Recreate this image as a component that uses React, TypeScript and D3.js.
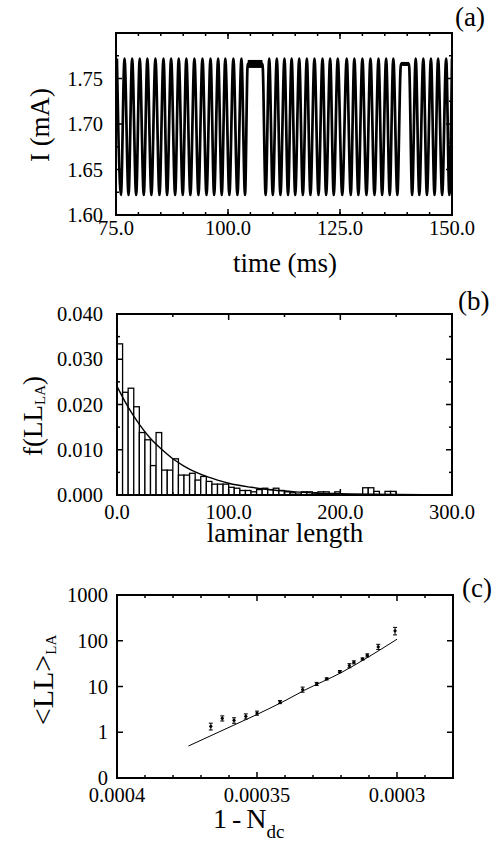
import React from "react";
import * as d3 from "d3";

const FONT = "Liberation Serif, Times New Roman, serif";

// (a) current trace: turning points (ms)
const peakTimes = [75.2, 76.9, 78.6, 80.3, 82.0, 83.8, 85.6, 87.3, 89.0, 90.7, 92.5, 94.3, 96.1, 97.8, 99.4, 101.2, 103.0,
  109.2, 110.9, 112.6, 114.2, 115.9, 117.6, 119.3, 121.1, 122.8, 124.5, 126.5, 128.2, 130.0, 131.8, 133.6, 135.3, 136.9,
  141.9, 143.6, 145.3, 146.9, 148.7, 150.0];
const troughTimes = [76.1, 77.8, 79.5, 81.2, 82.9, 84.7, 86.4, 88.2, 89.9, 91.6, 93.4, 95.2, 96.9, 98.6, 100.3, 102.1, 103.8,
  108.4, 110.0, 111.7, 113.4, 115.0, 116.7, 118.4, 120.2, 121.9, 123.6, 125.5, 127.4, 129.1, 130.9, 132.7, 134.4, 136.1, 137.8,
  141.1, 142.7, 144.4, 146.1, 147.8, 149.4];
const laminarPhases = [[104.4, 107.7], [138.6, 140.4]];
const peakLevel = 1.772;
const troughLevel = 1.622;
const laminarLevel = 1.766;
const timeTicks = [75, 100, 125, 150];
const currentTicks = [1.6, 1.65, 1.7, 1.75];

// (b) laminar length histogram, bins of 5
const binWidth = 5;
const histDensity = [0.0334, 0.0227, 0.0236, 0.0195, 0.0138, 0.0122, 0.0065, 0.0138, 0.0055, 0.0055,
  0.008, 0.0044, 0.0044, 0.0048, 0.0033, 0.0041, 0.003, 0.0024, 0.0024, 0.0024,
  0.0017, 0.0015, 0.001, 0.001, 0.0007, 0.0012, 0.0015, 0.0012, 0.0015, 0.001,
  0.0007, 0.0005, 0.0002, 0.0007, 0.0007, 0.0005, 0.0007, 0.0007, 0.0002, 0.0007,
  0, 0, 0, 0, 0.0016, 0.0016, 0.0008, 0, 0.0008, 0.0008];
const fitLength = [0, 10, 20, 30, 40, 50, 60, 70, 80, 90, 100, 120, 140, 160, 180, 200, 250, 300];
const fitDensity = [0.024, 0.0194, 0.0156, 0.0125, 0.0101, 0.008, 0.0064, 0.0051, 0.0041, 0.0033, 0.0026,
  0.0017, 0.0011, 0.0007, 0.0004, 0.0003, 0.0001, 0.00003];
const lengthTicks = [0, 100, 200, 300];
const densityTicks = [0, 0.01, 0.02, 0.03, 0.04];

// (c) mean laminar length vs control parameter
const controlValues = [0.0003665, 0.0003624, 0.0003582, 0.000354, 0.00035, 0.0003418, 0.0003337, 0.0003287,
  0.0003251, 0.0003204, 0.000317, 0.0003154, 0.0003123, 0.0003106, 0.0003067, 0.0003007];
const meanLengths = [1.35, 2.02, 1.82, 2.23, 2.63, 4.57, 8.6, 11.4, 14.7, 21.2, 28.6, 33.8, 40, 48, 74, 165];
const lengthErrors = [0.23, 0.26, 0.25, 0.29, 0.27, 0.35, 1.1, 0.9, 0.75, 1.1, 2.9, 2.6, 2, 3.7, 9.5, 31];
const fitControl = [0.0003745, 0.00036, 0.00035, 0.00034, 0.000333, 0.00032, 0.00031, 0.0003];
const fitMean = [0.5, 1.28, 2.45, 4.9, 8.3, 20, 45, 108];
const controlTicks = [0.0004, 0.00035, 0.0003];
const controlTickLabels = ["0.0004", "0.00035", "0.0003"];
const meanTicks = [0.1, 1, 10, 100, 1000];
const meanTickLabels = ["0", "1", "10", "100", "1000"];

type Scale = (v: number) => number;

function Frame({ x, y, xMajor, xMinor, yMajor, yMinor }: {
  x: Scale; y: Scale; xMajor: number[]; xMinor: number[]; yMajor: number[]; yMinor: number[];
}) {
  const [x0, x1] = (x as any).range();
  const [y0, y1] = (y as any).range(); // y0 bottom, y1 top
  const ticks: JSX.Element[] = [];
  const push = (vals: number[], len: number, vertical: boolean) =>
    vals.forEach((v, i) => {
      if (vertical) {
        const px = x(v);
        ticks.push(<line key={`xb${len}${i}`} x1={px} x2={px} y1={y0} y2={y0 - len} />);
        ticks.push(<line key={`xt${len}${i}`} x1={px} x2={px} y1={y1} y2={y1 + len} />);
      } else {
        const py = y(v);
        ticks.push(<line key={`yl${len}${i}`} x1={x0} x2={x0 + len} y1={py} y2={py} />);
        ticks.push(<line key={`yr${len}${i}`} x1={x1} x2={x1 - len} y1={py} y2={py} />);
      }
    });
  push(xMajor, 6, true);
  push(xMinor, 3, true);
  push(yMajor, 6, false);
  push(yMinor, 3, false);
  return (
    <g stroke="#000" fill="none">
      <g strokeWidth={1.5}>{ticks}</g>
      <rect x={x0} y={y1} width={x1 - x0} height={y0 - y1} strokeWidth={2} />
    </g>
  );
}

export default function App() {
  // panel (a)
  const xA = d3.scaleLinear().domain([75, 150]).range([116, 452]);
  const yA = d3.scaleLinear().domain([1.6, 1.8]).range([215, 33]);
  const trace: [number, number][] = [
    ...peakTimes.map((t) => [t, peakLevel] as [number, number]),
    ...troughTimes.map((t) => [t, troughLevel] as [number, number]),
    ...laminarPhases.flatMap(([a, b]) => [[a, laminarLevel], [b, laminarLevel]] as [number, number][]),
  ].sort((p, q) => p[0] - q[0]);
  const traceLine = d3.line<[number, number]>().x((d) => xA(d[0])).y((d) => yA(d[1])).curve(d3.curveMonotoneX);

  // panel (b)
  const xB = d3.scaleLinear().domain([0, 300]).range([117, 452]);
  const yB = d3.scaleLinear().domain([0, 0.04]).range([495, 314]);
  const fitLineB = d3.line<number>().x((d) => xB(d)).y((d, i) => yB(fitDensity[i])).curve(d3.curveMonotoneX);

  // panel (c)
  const xC = d3.scaleLinear().domain([0.0004, 0.00028]).range([117, 453]);
  const yC = d3.scaleLog().domain([0.1, 1000]).range([778, 595]);
  const fitLineC = d3.line<number>().x((d) => xC(d)).y((d, i) => yC(fitMean[i])).curve(d3.curveMonotoneX);

  const tick = { fontSize: 20.5 };

  return (
    <svg width={499} height={841} style={{ position: "absolute", left: 0, top: 0, background: "#fff", fontFamily: FONT }}>
      <rect width={499} height={841} fill="#fff" />

      {/* ---------- (a) ---------- */}
      <defs>
        <clipPath id="clipA">
          <rect x={116} y={33} width={336} height={182} />
        </clipPath>
      </defs>
      <g clipPath="url(#clipA)">
        <path d={traceLine(trace) || ""} fill="none" stroke="#000" strokeWidth={2.7} />
        {laminarPhases.map(([a, b], i) => (
          <line key={i} x1={xA(a)} x2={xA(b)} y1={yA(laminarLevel)} y2={yA(laminarLevel)} stroke="#000" strokeWidth={i === 0 ? 8 : 4} />
        ))}
      </g>
      <Frame x={xA} y={yA} xMajor={timeTicks} xMinor={d3.range(80, 150, 5)} yMajor={currentTicks.concat([1.8])} yMinor={[1.625, 1.675, 1.725, 1.775]} />
      {timeTicks.map((t) => (
        <text key={t} x={xA(t)} y={235} textAnchor="middle" {...tick}>{d3.format(".1f")(t)}</text>
      ))}
      {currentTicks.map((v) => (
        <text key={v} x={103} y={yA(v)} dy="0.35em" textAnchor="end" {...tick}>{d3.format(".2f")(v)}</text>
      ))}
      <text x={285} y={272} textAnchor="middle" fontSize={27}>time (ms)</text>
      <text transform="translate(49,125) rotate(-90)" textAnchor="middle" fontSize={27}>I (mA)</text>
      <text x={455} y={26} fontSize={27}>(a)</text>

      {/* ---------- (b) ---------- */}
      <g fill="#fff" stroke="#000" strokeWidth={1.3}>
        {histDensity.map((v, i) =>
          v > 0 ? (
            <rect key={i} x={xB(i * binWidth)} y={yB(v)} width={xB((i + 1) * binWidth) - xB(i * binWidth)} height={yB(0) - yB(v)} />
          ) : null
        )}
      </g>
      <path d={fitLineB(fitLength) || ""} fill="none" stroke="#000" strokeWidth={1.4} />
      <Frame x={xB} y={yB} xMajor={lengthTicks} xMinor={[50, 150, 250]} yMajor={densityTicks} yMinor={[0.005, 0.015, 0.025, 0.035]} />
      {lengthTicks.map((t) => (
        <text key={t} x={xB(t)} y={519} textAnchor="middle" {...tick}>{d3.format(".1f")(t)}</text>
      ))}
      {densityTicks.map((v) => (
        <text key={v} x={103} y={yB(v)} dy="0.35em" textAnchor="end" {...tick}>{d3.format(".3f")(v)}</text>
      ))}
      <text x={285} y={542} textAnchor="middle" fontSize={27}>laminar length</text>
      <text transform="translate(42,416) rotate(-90)" textAnchor="middle" fontSize={27}>
        f(LL<tspan fontSize={15} dy={3}>LA</tspan><tspan dy={-3}>)</tspan>
      </text>
      <text x={458} y={310} fontSize={27}>(b)</text>

      {/* ---------- (c) ---------- */}
      <path d={fitLineC(fitControl) || ""} fill="none" stroke="#000" strokeWidth={1} />
      <g stroke="#000" strokeWidth={1} fill="#000">
        {controlValues.map((c, i) => {
          const px = xC(c);
          const lo = yC(meanLengths[i] - lengthErrors[i]);
          const hi = yC(meanLengths[i] + lengthErrors[i]);
          return (
            <g key={i}>
              <line x1={px} x2={px} y1={lo} y2={hi} />
              <line x1={px - 2} x2={px + 2} y1={lo} y2={lo} />
              <line x1={px - 2} x2={px + 2} y1={hi} y2={hi} />
              <circle cx={px} cy={yC(meanLengths[i])} r={1.6} stroke="none" />
            </g>
          );
        })}
      </g>
      <Frame x={xC} y={yC} xMajor={controlTicks} xMinor={[0.00039, 0.00038, 0.00037, 0.00036, 0.00034, 0.00033, 0.00032, 0.00031, 0.00029]} yMajor={meanTicks} yMinor={[]} />
      {controlTicks.map((t, i) => (
        <text key={t} x={xC(t)} y={802} textAnchor="middle" {...tick}>{controlTickLabels[i]}</text>
      ))}
      {meanTicks.map((v, i) => (
        <text key={v} x={108} y={yC(v)} dy="0.35em" textAnchor="end" {...tick}>{meanTickLabels[i]}</text>
      ))}
      <text x={213} y={828} fontSize={28}>
        1<tspan dx={5}>-</tspan><tspan dx={5}>N</tspan>
        <tspan fontSize={19} dy={10}>dc</tspan>
      </text>
      <text transform="translate(53,680) rotate(-90)" textAnchor="middle" fontSize={30}>
        {"<LL>"}<tspan fontSize={15} dy={3}>LA</tspan>
      </text>
      <text x={462} y={597} fontSize={27}>(c)</text>
    </svg>
  );
}
